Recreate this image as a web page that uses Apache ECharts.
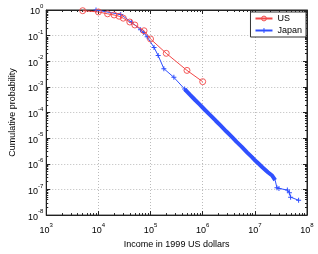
<!DOCTYPE html>
<html><head><meta charset="utf-8">
<script src="https://cdn.jsdelivr.net/npm/echarts@6/dist/echarts.min.js"></script>
<style>html,body{margin:0;padding:0;background:#fff}#c{width:318px;height:254px}</style>
</head><body><div id="c"></div>
<script>
// US data (income in 1999 US dollars, cumulative probability)
var usIncome = [5000, 10000, 15000, 20000, 25000, 30000, 40000, 50000, 75000, 100000, 200000, 500000, 1000000];
var usProb   = [0.94, 0.84, 0.71, 0.64, 0.57, 0.48, 0.34, 0.26, 0.155, 0.074, 0.0204, 0.0044, 0.0016];

// Japan data
var japanIncome = [9000, 26800, 42900, 64300, 73800, 86100, 116700, 140000, 180000, 280000, 450000,
  562000, 708000, 891000, 1.12e6, 1.41e6, 1.78e6, 2.24e6, 2.82e6, 3.55e6, 4.47e6, 5.62e6, 7.08e6, 8.91e6,
  1.0e7, 1.12e7, 1.41e7, 1.78e7, 2.14e7, 2.45e7,
  2.65e7, 2.9e7, 4.2e7, 4.6e7, 4.85e7, 6.9e7];
var japanProb = [1.0, 0.674, 0.335, 0.171, 0.133, 0.0897, 0.0347, 0.0167, 0.00515, 0.00236, 0.000824,
  5.13e-4, 3.16e-4, 2.0e-4, 1.23e-4, 7.8e-5, 4.8e-5, 3.0e-5, 1.86e-5, 1.17e-5, 7.2e-6, 4.6e-6, 2.8e-6, 1.78e-6,
  1.38e-6, 1.12e-6, 7.2e-7, 4.7e-7, 3.5e-7, 2.3e-7,
  1.17e-7, 1.1e-7, 9.5e-8, 7.5e-8, 5.0e-8, 3.8e-8];
var DENSE_FROM = 10, DENSE_TO = 29;

var FONT = 'Liberation Sans, Arial, Helvetica, sans-serif';
var RED = '#f24848', BLUE = '#3050ff';
var plus = 'path://M4,0H6V4H10V6H6V10H4V6H0V4H4Z';

function pairs(xs, ys, a, b) {
  var out = [];
  for (var i = (a || 0); i <= (b == null ? xs.length - 1 : b); i++) out.push([xs[i], ys[i]]);
  return out;
}
function expLabel(v) {
  var e = Math.round(Math.log10(v));
  return '{b|10}{s|' + e + '}';
}
var rich = {
  b: {fontSize: 9, fontFamily: FONT, color: '#000', lineHeight: 13, verticalAlign: 'bottom'},
  s: {fontSize: 6, fontFamily: FONT, color: '#000', lineHeight: 13, verticalAlign: 'top'}
};

var japanAll = pairs(japanIncome, japanProb).map(function (p, i) {
  var dense = (i > DENSE_FROM && i <= DENSE_TO);
  return {value: p, symbolSize: dense ? 0 : 5};
});

var chart = echarts.init(document.getElementById('c'), null, {renderer: 'canvas'});
var axisCommon = {
  type: 'log', logBase: 10,
  axisLine: {show: true, lineStyle: {color: '#222', width: 1}},
  axisTick: {show: true, inside: true, length: 4, lineStyle: {color: '#222'}},
  minorTick: {show: true, splitNumber: 9, length: 2, lineStyle: {color: '#222'}},
  minorSplitLine: {show: false}
};
chart.setOption({
  animation: false,
  backgroundColor: '#fff',
  grid: {left: 30, right: 11, top: 10, bottom: 25, show: true, borderColor: '#222', borderWidth: 1, backgroundColor: '#fff'},
  legend: {
    data: ['US', 'Japan'], orient: 'vertical', right: 12, top: 12,
    padding: [2, 4, 2, 4], itemGap: 3, itemWidth: 17, itemHeight: 6,
    borderColor: '#333', borderWidth: 1, backgroundColor: '#fff',
    itemStyle: {borderWidth: 1},
    textStyle: {fontSize: 9, fontFamily: FONT, color: '#000'}
  },
  xAxis: [
    Object.assign({}, axisCommon, {
      position: 'bottom', min: 1e3, max: 1e8, splitNumber: 5,
      name: 'Income in 1999 US dollars', nameLocation: 'middle', nameGap: 19,
      nameTextStyle: {fontSize: 9, fontFamily: FONT, color: '#000'},
      axisLabel: {margin: 7, formatter: expLabel, rich: rich},
      splitLine: {show: true, lineStyle: {color: '#bbb', type: [1, 2], width: 1}}
    }),
    Object.assign({}, axisCommon, {
      position: 'top', min: 1e3, max: 1e8, splitNumber: 5,
      axisLabel: {show: false}, splitLine: {show: false}
    })
  ],
  yAxis: [
    Object.assign({}, axisCommon, {
      position: 'left', min: 1e-8, max: 1, splitNumber: 8,
      name: 'Cumulative probability', nameLocation: 'middle', nameGap: 23, nameRotate: 90,
      nameTextStyle: {fontSize: 9, fontFamily: FONT, color: '#000'},
      axisLabel: {margin: 3, formatter: expLabel, rich: rich},
      splitLine: {show: true, lineStyle: {color: '#bbb', type: [1, 2], width: 1}}
    }),
    Object.assign({}, axisCommon, {
      position: 'right', min: 1e-8, max: 1, splitNumber: 8,
      axisLabel: {show: false}, splitLine: {show: false}
    })
  ],
  series: [
    {
      name: 'US', type: 'line', data: pairs(usIncome, usProb),
      symbol: 'circle', symbolSize: 6, showAllSymbol: true,
      lineStyle: {color: RED, width: 1},
      itemStyle: {color: 'rgba(255,255,255,0)', borderColor: RED, borderWidth: 0.9},
      emphasis: {disabled: true},
      z: 3
    },
    {
      name: 'Japan', type: 'line', data: japanAll,
      symbol: plus, symbolSize: 5, showAllSymbol: true,
      lineStyle: {color: BLUE, width: 1}, itemStyle: {color: BLUE},
      emphasis: {disabled: true},
      z: 2
    },
    {
      name: 'Japan', type: 'line', data: pairs(japanIncome, japanProb, DENSE_FROM, DENSE_TO),
      symbol: 'none', lineStyle: {color: BLUE, width: 4}, itemStyle: {color: BLUE},
      emphasis: {disabled: true},
      z: 2
    }
  ]
});
</script></body></html>
